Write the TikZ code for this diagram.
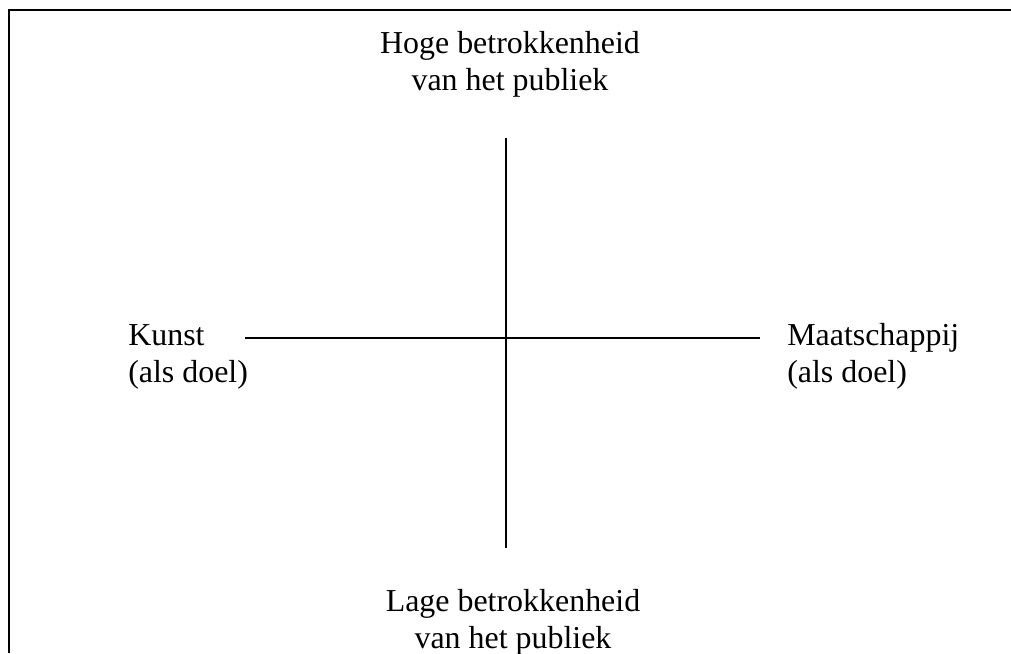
\documentclass[tikz,border=0pt]{standalone}
\usepackage{fontspec}
\setmainfont{Liberation Serif}
\begin{document}
\begin{tikzpicture}[x=0.025cm,y=-0.025cm,
  label/.style={font=\fontsize{22.7}{26.2}\selectfont,inner sep=0pt,anchor=base}]

\useasboundingbox (0,0) rectangle (1011,653);

\coordinate (F1) at (9,653);
\coordinate (F2) at (9,10);
\coordinate (F3) at (1011,10);

\draw[line width=2pt] (F1) -- (F2) -- (F3);

\coordinate (T) at (506,138);
\coordinate (B) at (506,548);
\coordinate (L) at (245,338);
\coordinate (R) at (760,338);

\draw[line width=1.4pt] (T) -- (B);
\draw[line width=1.4pt] (L) -- (R);

\node[label,align=center] (hoog) at (510,90) {Hoge betrokkenheid\\van het publiek};
\node[label,align=center] (laag) at (513,648) {Lage betrokkenheid\\van het publiek};
\node[label,align=left,anchor=base west] (kunst) at (128,382) {Kunst\\(als doel)};
\node[label,align=left,anchor=base west] (maatschappij) at (787,382) {Maatschappij\\(als doel)};

\end{tikzpicture}
\end{document}
